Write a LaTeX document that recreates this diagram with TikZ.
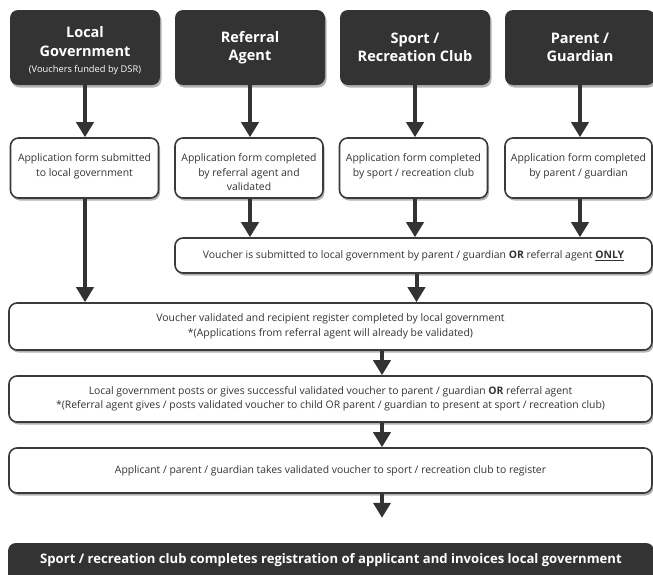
\documentclass[tikz,border=0pt]{standalone}
\usepackage{fontspec}
\setmainfont{Open Sans}
\usetikzlibrary{arrows.meta,shadows}
\definecolor{dk}{HTML}{333333}
\definecolor{bd}{HTML}{3A3A3A}
\begin{document}
\begin{tikzpicture}[x=1pt,y=-1pt,
  shad/.style={drop shadow={shadow xshift=1.5pt,shadow yshift=-2.5pt,opacity=0.3,fill=black}},
  darkbox/.style={shad,fill=dk,draw=none,rounded corners=8pt,text=white,align=center,
    minimum width=150pt,minimum height=75pt,inner sep=0pt,
    font=\bfseries\fontsize{14.5}{18.5}\selectfont},
  wbox/.style={shad,fill=white,draw=bd,line width=1.6pt,rounded corners=8pt,inner sep=0pt},
  wtext/.style={align=center,inner sep=0pt,text=black!80,font=\fontsize{10.4}{14.5}\selectfont},
  arr/.style={draw=dk,line width=4pt,-{Triangle[width=17pt,length=15pt]}},
]
\clip (0,0) rectangle (653,574);
\fill[white] (0,0) rectangle (653,574);

% top headings
\node[darkbox] (t1) at (85,47.5) {};
\node[text=white,align=center,inner sep=0pt,font=\bfseries\fontsize{14.5}{18.5}\selectfont] (t1l) at (85,51)
  {Local\\Government\\[-2pt]{\mdseries\fontsize{9.3}{11}\selectfont (Vouchers funded by DSR)}};
\node[darkbox] (t2) at (250,47.5) {Referral\\Agent};
\node[darkbox] (t3) at (415,47.5) {Sport /\\Recreation Club};
\node[darkbox] (t4) at (580,47.5) {Parent /\\Guardian};

% second row
\node[wbox,minimum width=148pt,minimum height=60pt] (a1) at (84.5,168) {};
\node[wbox,minimum width=148pt,minimum height=60pt] (a2) at (249,168) {};
\node[wbox,minimum width=148pt,minimum height=60pt] (a3) at (413.5,168) {};
\node[wbox,minimum width=147pt,minimum height=60pt] (a4) at (578.5,168) {};
\node[wtext,anchor=north] (l1) at ([yshift=-16.5pt]a1.north) {Application form submitted\\to local government};
\node[wtext,anchor=north] (l2) at ([yshift=-16.5pt]a2.north) {Application form completed\\by referral agent and\\validated};
\node[wtext,anchor=north] (l3) at ([yshift=-16.5pt]a3.north) {Application form completed\\by sport / recreation club};
\node[wtext,anchor=north] (l4) at ([yshift=-16.5pt]a4.north) {Application form completed\\by parent / guardian};

% voucher submitted
\node[wbox,minimum width=477pt,minimum height=35pt,wtext] (vs) at (413.5,255.5)
  {Voucher is submitted to local government by parent / guardian \textbf{OR} referral agent \textbf{\underline{ONLY}}};

% wide boxes
\node[wbox,minimum width=643pt,minimum height=47pt,wtext] (vv) at (330.5,326.5)
  {Voucher validated and recipient register completed by local government\\*(Applications from referral agent will already be validated)};
\node[wbox,minimum width=643pt,minimum height=46pt,wtext] (lp) at (330.5,399)
  {Local government posts or gives successful validated voucher to parent / guardian \textbf{OR} referral agent\\*(Referral agent gives / posts validated voucher to child OR parent / guardian to present at sport / recreation club)};
\node[wbox,minimum width=643pt,minimum height=45pt,wtext] (ap) at (330.5,470.5)
  {Applicant / parent / guardian takes validated voucher to sport / recreation club to register};

% bottom
\node[shad,fill=dk,rounded corners=8pt,minimum width=646pt,minimum height=44pt,inner sep=0pt] (bt) at (331,565) {};
\node[text=white,inner sep=0pt,font=\bfseries\fontsize{13.1}{16}\selectfont] (btl) at (331,560)
  {Sport / recreation club completes registration of applicant and invoices local government};

\coordinate (mid) at (382,0);

% arrows
\draw[arr] (t1.south) -- (t1.south |- a1.north);
\draw[arr] (t2.south) -- (t2.south |- a2.north);
\draw[arr] (t3.south) -- (t3.south |- a3.north);
\draw[arr] (t4.south) -- (t4.south |- a4.north);
\draw[arr] (a1.south -| t1.south) -- (t1.south |- vv.north);
\draw[arr] (a2.south -| t2.south) -- (t2.south |- vs.north);
\draw[arr] (a3.south -| t3.south) -- (t3.south |- vs.north);
\draw[arr] (a4.south -| t4.south) -- (t4.south |- vs.north);
\draw[arr] ([xshift=3pt]vs.south) -- ([xshift=3pt]vs.south |- vv.north);
\draw[arr] (vv.south -| mid) -- (lp.north -| mid);
\draw[arr] (lp.south -| mid) -- (ap.north -| mid);
\draw[arr] (ap.south -| mid) -- ([yshift=25pt]bt.north -| mid);
\end{tikzpicture}
\end{document}
